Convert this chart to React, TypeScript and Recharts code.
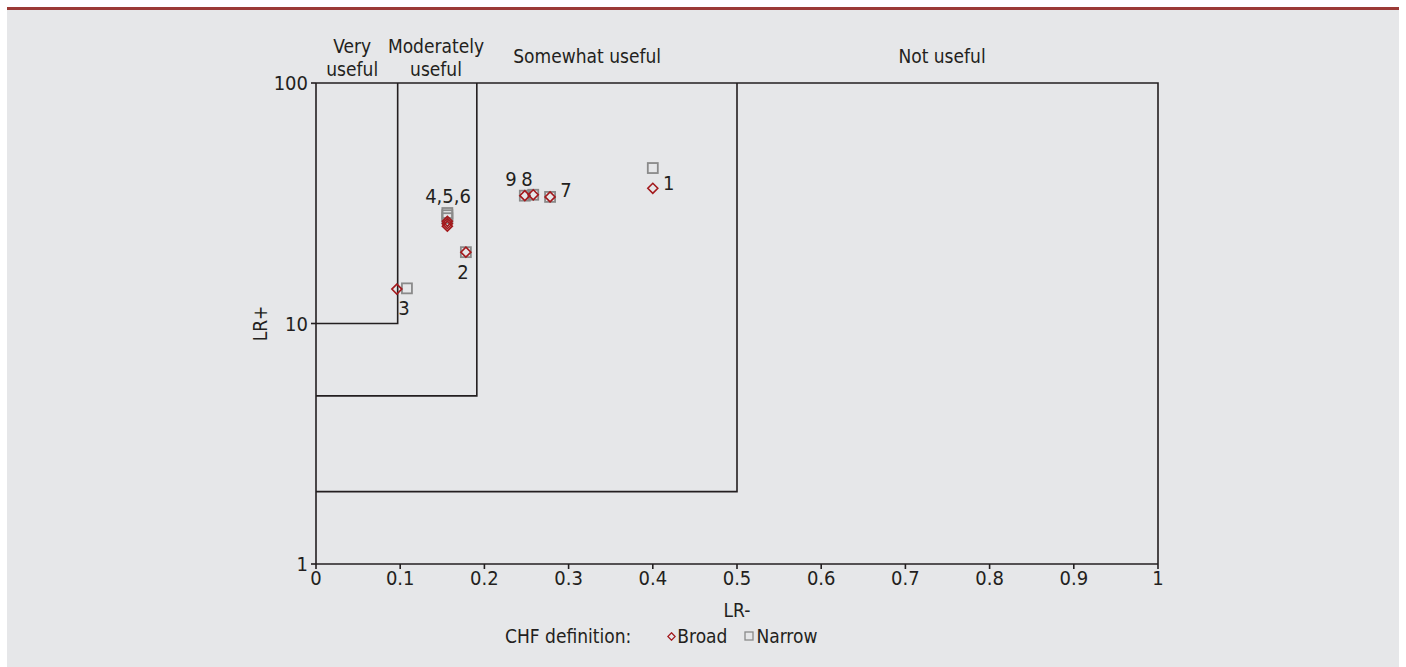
import React from 'react';
import { ScatterChart, Scatter, XAxis, YAxis, Label } from 'recharts';

const xTicks = [0, 0.1, 0.2, 0.3, 0.4, 0.5, 0.6, 0.7, 0.8, 0.9, 1];
const yTicks = [1, 10, 100];

const broad = [
  { id: 1, x: 0.4, y: 36.5 },
  { id: 2, x: 0.178, y: 19.8 },
  { id: 3, x: 0.096, y: 13.9 },
  { id: 4, x: 0.156, y: 25.4 },
  { id: 5, x: 0.156, y: 26.0 },
  { id: 6, x: 0.156, y: 26.6 },
  { id: 7, x: 0.278, y: 33.6 },
  { id: 8, x: 0.258, y: 34.3 },
  { id: 9, x: 0.248, y: 34.0 },
];

const narrow = [
  { id: 1, x: 0.4, y: 44.3 },
  { id: 2, x: 0.178, y: 19.8 },
  { id: 3, x: 0.108, y: 14.0 },
  { id: 4, x: 0.156, y: 27.4 },
  { id: 5, x: 0.156, y: 28.2 },
  { id: 6, x: 0.156, y: 28.8 },
  { id: 7, x: 0.278, y: 33.6 },
  { id: 8, x: 0.258, y: 34.3 },
  { id: 9, x: 0.248, y: 34.0 },
];

const veryBox = [{ x: 0, y: 10 }, { x: 0.097, y: 10 }, { x: 0.097, y: 100 }];
const moderateBox = [{ x: 0, y: 5 }, { x: 0.191, y: 5 }, { x: 0.191, y: 100 }];
const somewhatBox = [{ x: 0, y: 2 }, { x: 0.5, y: 2 }, { x: 0.5, y: 100 }];
const outerBox = [{ x: 0, y: 100 }, { x: 1, y: 100 }, { x: 1, y: 1 }];

const regionLabels = [
  { x: 0.043, y: 100, lines: ['Very', 'useful'] },
  { x: 0.1425, y: 100, lines: ['Moderately', 'useful'] },
  { x: 0.322, y: 100, lines: ['Somewhat useful'] },
  { x: 0.7435, y: 100, lines: ['Not useful'] },
];

const pointLabels = [
  { x: 0.419, y: 38.4, text: '1' },
  { x: 0.1746, y: 16.4, text: '2' },
  { x: 0.1045, y: 11.6, text: '3' },
  { x: 0.1568, y: 33.9, text: '4,5,6' },
  { x: 0.297, y: 35.9, text: '7' },
  { x: 0.2506, y: 39.9, text: '8' },
  { x: 0.2316, y: 39.9, text: '9' },
];

const FONT = '"DejaVu Sans Condensed", "DejaVu Sans", sans-serif';
const FS = 19;
const TICK_FS = 20;
const TEXT = '#231f20';
const RED = '#a3191c';
const GREY = '#8a8a8a';
const LINE = { stroke: '#231f20', strokeWidth: 1.6 };

const Diamond = (props: any) => {
  const { cx, cy } = props;
  if (cx == null || cy == null) return <g />;
  const r = 5;
  return (
    <path
      d={`M${cx},${cy - r}L${cx + r},${cy}L${cx},${cy + r}L${cx - r},${cy}Z`}
      fill="none"
      stroke={RED}
      strokeWidth={1.6}
    />
  );
};

const Square = (props: any) => {
  const { cx, cy } = props;
  if (cx == null || cy == null) return <g />;
  const s = 10;
  return <rect x={cx - s / 2} y={cy - s / 2} width={s} height={s} fill="none" stroke={GREY} strokeWidth={1.8} />;
};

const Nothing = () => <g />;

const RegionText = (props: any) => {
  const { cx, cy, payload } = props;
  const lines: string[] = payload.lines;
  if (lines.length === 2) {
    return (
      <g>
        <text x={cx} y={cy - 37} textAnchor="middle" dominantBaseline="central" fontSize={FS} fill={TEXT} fontFamily={FONT}>{lines[0]}</text>
        <text x={cx} y={cy - 14} textAnchor="middle" dominantBaseline="central" fontSize={FS} fill={TEXT} fontFamily={FONT}>{lines[1]}</text>
      </g>
    );
  }
  return (
    <text x={cx} y={cy - 27} textAnchor="middle" dominantBaseline="central" fontSize={FS} fill={TEXT} fontFamily={FONT}>{lines[0]}</text>
  );
};

const PointText = (props: any) => {
  const { cx, cy, payload } = props;
  return (
    <text x={cx} y={cy} textAnchor="middle" dominantBaseline="central" fontSize={20} fill={TEXT} fontFamily={FONT}>{payload.text}</text>
  );
};

export default function App() {
  return (
    <div style={{ position: 'absolute', left: 0, top: 0, width: 1406, height: 667, background: '#ffffff', fontFamily: FONT }}>
      <div style={{ position: 'absolute', left: 7, top: 10, width: 1392, height: 657, background: '#e6e7e9' }} />
      <div style={{ position: 'absolute', left: 7, top: 7, width: 1392, height: 3, background: '#9b3a36' }} />
      <div style={{ position: 'absolute', left: 0, top: 0 }}>
        <ScatterChart width={1406} height={667} margin={{ top: 83, right: 248, bottom: 73, left: 256 }}>
          <XAxis
            type="number"
            dataKey="x"
            domain={[0, 1]}
            ticks={xTicks}
            interval={0}
            height={30}
            tickSize={5}
            tickMargin={2}
            stroke="#231f20"
            strokeWidth={1.6}
            tick={{ fontSize: TICK_FS, fill: TEXT, fontFamily: FONT }}
          >
            <Label
              content={(p: any) => {
                const vb = p.viewBox;
                return (
                  <text x={vb.x + vb.width / 2} y={vb.y + 46} textAnchor="middle" dominantBaseline="central" fontSize={FS} fill={TEXT} fontFamily={FONT}>LR-</text>
                );
              }}
            />
          </XAxis>
          <YAxis
            type="number"
            dataKey="y"
            scale="log"
            domain={[1, 100]}
            ticks={yTicks}
            interval={0}
            width={60}
            tickSize={5}
            tickMargin={3}
            stroke="#231f20"
            strokeWidth={1.6}
            tick={{ fontSize: TICK_FS, fill: TEXT, fontFamily: FONT }}
          >
            <Label
              content={(p: any) => {
                const vb = p.viewBox;
                const x = vb.x + 4;
                const y = vb.y + vb.height / 2;
                return (
                  <text x={x} y={y} transform={`rotate(-90 ${x} ${y})`} textAnchor="middle" dominantBaseline="central" fontSize={FS} fill={TEXT} fontFamily={FONT}>LR+</text>
                );
              }}
            />
          </YAxis>
          <Scatter data={veryBox} line={LINE} lineType="joint" shape={Nothing} isAnimationActive={false} />
          <Scatter data={moderateBox} line={LINE} lineType="joint" shape={Nothing} isAnimationActive={false} />
          <Scatter data={somewhatBox} line={LINE} lineType="joint" shape={Nothing} isAnimationActive={false} />
          <Scatter data={outerBox} line={LINE} lineType="joint" shape={Nothing} isAnimationActive={false} />
          <Scatter name="Narrow" data={narrow} shape={Square} isAnimationActive={false} />
          <Scatter name="Broad" data={broad} shape={Diamond} isAnimationActive={false} />
          <Scatter data={regionLabels} shape={RegionText} isAnimationActive={false} />
          <Scatter data={pointLabels} shape={PointText} isAnimationActive={false} />
        </ScatterChart>
      </div>
      <div style={{ position: 'absolute', left: 505, top: 624, fontSize: FS, color: TEXT, display: 'flex', alignItems: 'center', whiteSpace: 'nowrap', lineHeight: '24px' }}>
        <span>CHF definition:</span>
        <span style={{ display: 'inline-flex', alignItems: 'center', marginLeft: 36 }}>
          <svg width={9} height={9} style={{ marginRight: 1 }}>
            <path d="M4.5,0.8L8.2,4.5L4.5,8.2L0.8,4.5Z" fill="none" stroke={RED} strokeWidth={1.3} />
          </svg>
          Broad
        </span>
        <span style={{ display: 'inline-flex', alignItems: 'center', marginLeft: 17 }}>
          <svg width={10} height={10} style={{ marginRight: 2 }}>
            <rect x={1} y={1} width={8} height={8} fill="none" stroke={GREY} strokeWidth={1.3} />
          </svg>
          Narrow
        </span>
      </div>
    </div>
  );
}
